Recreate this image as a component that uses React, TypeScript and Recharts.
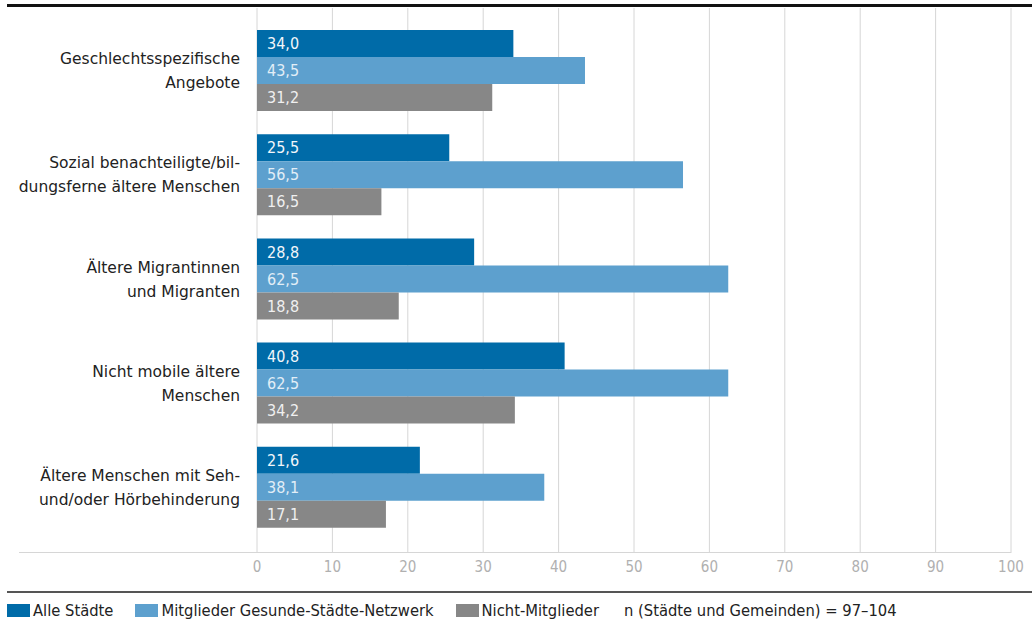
import { BarChart, Bar, XAxis, YAxis, CartesianGrid, LabelList } from "recharts";

const categories = [
  ["Geschlechtsspezifische", "Angebote"],
  ["Sozial benachteiligte/bil-", "dungsferne ältere Menschen"],
  ["Ältere Migrantinnen", "und Migranten"],
  ["Nicht mobile ältere", "Menschen"],
  ["Ältere Menschen mit Seh-", "und/oder Hörbehinderung"],
];
const alleStaedte = [34.0, 25.5, 28.8, 40.8, 21.6];
const mitglieder = [43.5, 56.5, 62.5, 62.5, 38.1];
const nichtMitglieder = [31.2, 16.5, 18.8, 34.2, 17.1];
const xTicks = [0, 10, 20, 30, 40, 50, 60, 70, 80, 90, 100];

const FONT = "'DejaVu Sans Condensed', 'DejaVu Sans', sans-serif";
const CAT_FONT = "'DejaVu Sans', sans-serif";

const data = categories.map((c, i) => ({
  name: c.join(" "),
  alle: alleStaedte[i],
  mit: mitglieder[i],
  nicht: nichtMitglieder[i],
}));

const fmt = (v: number) => v.toFixed(1).replace(".", ",");

function CategoryTick(props: any) {
  const { x, y, index } = props;
  const lines = categories[index] || [];
  return (
    <text x={x - 9} y={y} textAnchor="end" fill="#222" fontSize={15.5} fontFamily={CAT_FONT}>
      {lines.map((l, i) => (
        <tspan key={i} x={x - 9} y={y - 12 + i * 24} dy={6}>
          {l}
        </tspan>
      ))}
    </text>
  );
}

const legendItems = [
  { color: "#006ba8", label: "Alle Städte", gap: 22 },
  { color: "#5da0ce", label: "Mitglieder Gesunde-Städte-Netzwerk", gap: 22 },
  { color: "#878787", label: "Nicht-Mitglieder", gap: 22 },
];

export default function App() {
  return (
    <div style={{ position: "absolute", left: 0, top: 0, width: 1032, height: 625, background: "#fff", fontFamily: FONT }}>
      <div style={{ position: "absolute", left: 7, top: 4, width: 1025, height: 3, background: "#111" }} />
      <BarChart
        width={1032}
        height={590}
        data={data}
        layout="vertical"
        margin={{ top: 8, right: 21, bottom: 7, left: 0 }}
        barCategoryGap={12}
        barGap={0}
      >
        <CartesianGrid horizontal={false} stroke="#d6d6d6" />
        <XAxis
          type="number"
          domain={[0, 100]}
          ticks={xTicks}
          height={30}
          axisLine={false}
          tickLine={false}
          tick={{ fill: "#b0b0b0", fontSize: 15, fontFamily: FONT }}
          tickMargin={2}
          interval={0}
        />
        <YAxis
          type="category"
          dataKey="name"
          width={257}
          axisLine={false}
          tickLine={false}
          tick={<CategoryTick />}
          padding={{ top: 10, bottom: 14 }}
          interval={0}
        />
        <Bar dataKey="alle" fill="#006ba8" isAnimationActive={false}>
          <LabelList dataKey="alle" position="insideLeft" offset={10} formatter={fmt} fill="#f2f6fa" fontSize={16} fontFamily={FONT} />
        </Bar>
        <Bar dataKey="mit" fill="#5da0ce" isAnimationActive={false}>
          <LabelList dataKey="mit" position="insideLeft" offset={10} formatter={fmt} fill="#e2eef7" fontSize={16} fontFamily={FONT} />
        </Bar>
        <Bar dataKey="nicht" fill="#878787" isAnimationActive={false}>
          <LabelList dataKey="nicht" position="insideLeft" offset={10} formatter={fmt} fill="#f0f0f0" fontSize={16} fontFamily={FONT} />
        </Bar>
      </BarChart>
      <div style={{ position: "absolute", left: 19, top: 552, width: 992, height: 1, background: "#d6d6d6" }} />
      <div style={{ position: "absolute", left: 7, top: 591, width: 1025, height: 2, background: "#555" }} />
      <div style={{ position: "absolute", left: 7, top: 601, display: "flex", alignItems: "center", fontSize: 16.4, color: "#222", whiteSpace: "nowrap" }}>
        {legendItems.map((it, i) => (
          <span key={i} style={{ display: "flex", alignItems: "center", marginRight: it.gap }}>
            <span style={{ width: 23, height: 13, background: it.color, marginRight: 3, display: "inline-block" }} />
            {it.label}
          </span>
        ))}
        <span style={{ marginLeft: 3 }}>n (Städte und Gemeinden) = 97–104</span>
      </div>
    </div>
  );
}
